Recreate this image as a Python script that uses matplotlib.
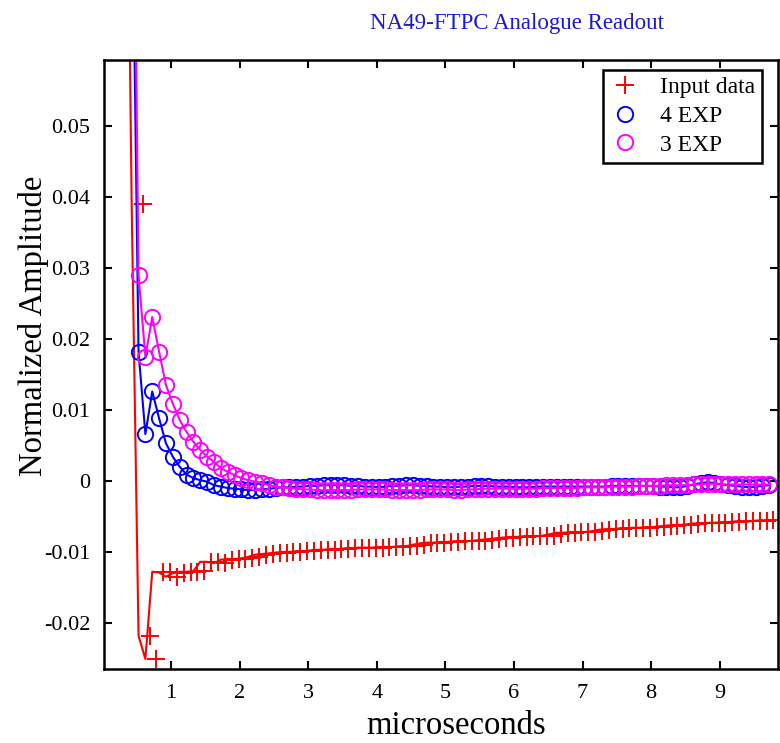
import numpy as np
import matplotlib
matplotlib.use("Agg")
import matplotlib.pyplot as plt
from matplotlib.lines import Line2D

plt.rcParams['font.family'] = ['Liberation Serif', 'DejaVu Serif']
plt.rcParams['axes.unicode_minus'] = False

# ---- data ----
t_start = 0.324          # first model sample time (microseconds)
t_step = 0.1             # sampling step
cross_shift = 0.16       # input-data markers are drawn shifted by this

input_y = [0.12, 0.039, -0.0218, -0.0251, -0.0128, -0.0129, -0.0135, -0.0130, -0.0128, -0.0128,
           -0.0127, -0.0114, -0.0114, -0.0116, -0.0111, -0.0110, -0.0110, -0.0109, -0.0107, -0.0104,
           -0.0103, -0.0102, -0.0101, -0.0100, -0.0100, -0.0099, -0.0099, -0.0098, -0.0097, -0.0097,
           -0.0096, -0.0096, -0.0095, -0.0095, -0.0094, -0.0094, -0.0094, -0.0093, -0.0093, -0.0093,
           -0.0092, -0.0092, -0.0090, -0.0088, -0.0087, -0.0087, -0.0086, -0.0086, -0.0085, -0.0085,
           -0.0085, -0.0084, -0.0083, -0.0082, -0.0081, -0.0080, -0.0079, -0.0079, -0.0078, -0.0078,
           -0.0078, -0.0077, -0.0075, -0.0073, -0.0073, -0.0072, -0.0072, -0.0072, -0.0071, -0.0069,
           -0.0068, -0.0068, -0.0067, -0.0067, -0.0066, -0.0066, -0.0065, -0.0065, -0.0064, -0.0063,
           -0.0062, -0.0062, -0.0061, -0.0060, -0.0060, -0.0059, -0.0059, -0.0058, -0.0058, -0.0057,
           -0.0057, -0.0057, -0.0056, -0.0055]

exp4_y = [0.25, 0.09, 0.0182, 0.0066, 0.0126, 0.0088, 0.0053, 0.0034, 0.0020, 0.0009,
          0.0004, 0.0001, -0.0001, -0.0006, -0.0008, -0.0010, -0.0011, -0.0012, -0.0013, -0.0013,
          -0.0012, -0.0011, -0.0010, -0.0009, -0.0009, -0.0008,
          -0.0008, -0.0007, -0.0007, -0.0006, -0.0006, -0.0006, -0.0006, -0.0007, -0.0007, -0.0008, -0.0008,
          -0.0009, -0.0008, -0.0007, -0.0007, -0.0006, -0.0006, -0.0007, -0.0007, -0.0008, -0.0008,
          -0.0009, -0.0009, -0.0008, -0.0008, -0.0007, -0.0007, -0.0007, -0.0008, -0.0008, -0.0008,
          -0.0009, -0.0009, -0.0009, -0.0008, -0.0008, -0.0008, -0.0008, -0.0008, -0.0008, -0.0008,
          -0.0008, -0.0008, -0.0008, -0.0008, -0.0007, -0.0007, -0.0007, -0.0007, -0.0007, -0.0007,
          -0.0007, -0.0008, -0.0008, -0.0009, -0.0009, -0.0007, -0.0005, -0.0003, -0.0002, -0.0003,
          -0.0005, -0.0006, -0.0007, -0.0008, -0.0009, -0.0008, -0.0007, -0.0006]

exp3_y = [0.30, 0.117, 0.029, 0.0175, 0.0231, 0.0182, 0.0135, 0.0109, 0.0086, 0.0069,
          0.0055, 0.0044, 0.0034, 0.0027, 0.0018, 0.0013, 0.0008, 0.0004, 0.0001, -0.0001,
          -0.0003, -0.0006, -0.0008, -0.0009, -0.0010, -0.0011,
          -0.0012, -0.0012, -0.0013, -0.0013, -0.0013, -0.0013, -0.0013, -0.0013, -0.0012, -0.0012, -0.0012,
          -0.0012, -0.0012, -0.0013, -0.0013, -0.0013, -0.0013, -0.0013, -0.0012, -0.0012, -0.0012,
          -0.0012, -0.0013, -0.0013, -0.0012, -0.0012, -0.0011, -0.0011, -0.0011, -0.0011, -0.0011,
          -0.0011, -0.0011, -0.0011, -0.0011, -0.0010, -0.0010, -0.0010, -0.0010, -0.0010, -0.0010,
          -0.0009, -0.0009, -0.0009, -0.0009, -0.0008, -0.0008, -0.0008, -0.0008, -0.0007, -0.0007,
          -0.0007, -0.0007, -0.0006, -0.0006, -0.0006, -0.0006, -0.0005, -0.0005, -0.0004, -0.0004,
          -0.0005, -0.0005, -0.0005, -0.0005, -0.0005, -0.0005, -0.0005, -0.0005]

x_ticks = [1, 2, 3, 4, 5, 6, 7, 8, 9]
y_ticks = [-0.02, -0.01, 0, 0.01, 0.02, 0.03, 0.04, 0.05]
y_tick_labels = ['-0.02', '-0.01', '0', '0.01', '0.02', '0.03', '0.04', '0.05']

t_model = np.round(t_start + t_step * np.arange(len(exp4_y)), 3)
t_input_line = t_model[:len(input_y)]
t_input_marks = t_input_line + cross_shift

# ---- figure ----
fig = plt.figure(figsize=(7.8, 7.43), dpi=100)
ax = fig.add_axes([0.1333, 0.0996, 0.8641, 0.8196])

ax.plot(t_input_marks, input_y, linestyle='none', marker='+', color='red',
        markersize=13, markeredgewidth=1.4, label='Input data')
ax.plot(t_input_line, input_y, color='red', linewidth=1.5)
ax.plot(t_model, exp4_y, color='blue', linewidth=1.5, marker='o', markersize=11,
        markerfacecolor='none', markeredgewidth=1.4, label='4 EXP')
ax.plot(t_model, exp3_y, color='magenta', linewidth=1.5, marker='o', markersize=11,
        markerfacecolor='none', markeredgewidth=1.4, label='3 EXP')

ax.set_xlim(0.02, 9.85)
ax.set_ylim(-0.0265, 0.0593)
ax.set_xticks(x_ticks)
ax.set_xticklabels([str(v) for v in x_ticks])
ax.set_yticks(y_ticks)
ax.set_yticklabels(y_tick_labels)
ax.tick_params(direction='in', length=6, width=1.5, top=True, right=True,
               labelsize=16, colors='black')
ax.tick_params(axis='x', pad=11)
ax.tick_params(axis='y', pad=10)
for s in ax.spines.values():
    s.set_linewidth(1.8)

ax.set_xlabel('microseconds', fontsize=23.5, labelpad=5)
ax.xaxis.label.set_x(0.522)
ax.set_ylabel('Normalized Amplitude', fontsize=23.5, labelpad=-4)
ax.yaxis.label.set_y(0.563)
ax.set_title('NA49-FTPC Analogue Readout', fontsize=16.5, color='#1a1ad6',
             x=0.613, pad=22)

handles = [Line2D([], [], linestyle='none', marker='+', color='red', markersize=13, markeredgewidth=1.4),
           Line2D([], [], linestyle='none', marker='o', color='blue', markerfacecolor='none',
                  markersize=11, markeredgewidth=1.4),
           Line2D([], [], linestyle='none', marker='o', color='magenta', markerfacecolor='none',
                  markersize=11, markeredgewidth=1.4)]
leg = ax.legend(handles, ['Input data', '4 EXP', '3 EXP'], loc='upper right',
                bbox_to_anchor=(0.976, 0.984), borderaxespad=0, fontsize=17,
                fancybox=False, framealpha=1, edgecolor='black', handlelength=1.3,
                handletextpad=0.8, borderpad=0.3, labelspacing=0.3)
leg.get_frame().set_linewidth(1.8)

fig.savefig('out.png', dpi=100)
